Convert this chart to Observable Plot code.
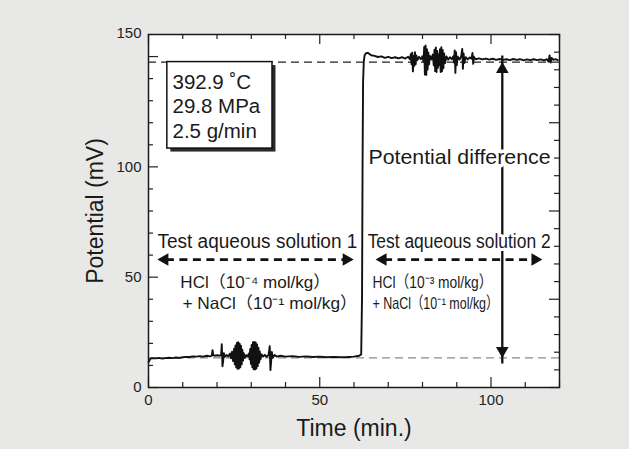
<!DOCTYPE html>
<html><head><meta charset="utf-8">
<script src="https://cdn.jsdelivr.net/npm/d3@7"></script>
<script src="https://cdn.jsdelivr.net/npm/@observablehq/plot@0.6"></script>
<style>
html,body{margin:0;padding:0;background:#e8e9e7;}
#chart{width:629px;height:449px;}
svg{display:block;}
</style></head><body><div id="chart"></div>
<script>
// ---- data ----
// potential trace: [time (min), potential (mV)]
const trace = [
[0,11.6],[0.2,11.9],[0.5,13.0],[1,13.3],[2,13.2],[3,13.4],[4,13.1],[5,13.3],[6,13.5],[7,13.3],[8,13.6],[9,13.4],[10,13.7],[11,13.9],[12,13.8],[13,14.1],[14,14.0],[15,14.2],[16,14.0],[17,14.4],[18,14.1],[18.5,14.4],[18.7,16.9],[18.9,14.8],[19.3,14.4],[20,14.6],[20.8,14.4],[21.2,14.8],[21.4,19.6],[21.6,9.6],[21.8,12.1],[22.0,15.6],[22.3,13.9],[22.8,14.7],[23.3,14.1],[23.8,15.4],[24.1,13.2],[24.4,16.2],[24.7,12.0],[25.0,17.6],[25.2,10.5],[25.4,19.1],[25.6,9.2],[25.8,20.2],[26.0,8.5],[26.2,20.5],[26.4,8.6],[26.6,19.9],[26.8,9.2],[27.0,18.9],[27.2,10.5],[27.4,17.1],[27.6,12.2],[27.8,15.6],[28.1,13.5],[28.5,14.7],[28.9,14.0],[29.3,15.4],[29.5,12.8],[29.7,17.5],[29.9,10.7],[30.1,19.3],[30.3,9.2],[30.5,20.5],[30.7,8.3],[30.9,20.7],[31.1,8.2],[31.3,20.4],[31.5,8.6],[31.7,19.5],[31.9,9.7],[32.1,18.0],[32.3,11.3],[32.5,16.3],[32.7,12.8],[33.0,15.0],[33.5,14.0],[34.0,14.8],[34.5,13.9],[35.0,14.6],[35.2,16.4],[35.4,18.7],[35.6,7.9],[35.8,11.6],[36.0,16.1],[36.3,13.5],[36.8,14.7],[37.5,14.0],[38.5,14.4],[40,14.0],[42,14.2],[44,13.9],[46,14.1],[48,13.8],[50,14.0],[52,13.7],[54,13.9],[56,13.7],[58,13.8],[60,14.0],[61.5,14.4],[62.1,15.0],
[62.35,41.7],[62.5,100.8],[62.65,138.5],[62.85,147.6],[63.1,150.6],[63.5,151.5],[64,151.7],[64.5,151.2],[65,150.6],[66,150.3],[67,149.8],[68,150.1],[69,149.4],[70,149.9],[71,149.3],[72,149.7],[73,149.2],[74,149.7],[75,149.1],[75.8,149.9],[76.3,148.8],[76.6,151.2],[76.8,146.5],[77.0,151.7],[77.2,143.3],[77.4,150.3],[77.6,145.8],[77.8,152.0],[78.0,146.5],[78.2,150.5],[78.5,148.4],[79.0,149.9],[79.5,148.8],[80.0,150.2],[80.3,147.6],[80.5,154.4],[80.7,141.9],[80.9,155.0],[81.1,141.7],[81.3,153.3],[81.5,144.1],[81.7,151.9],[81.9,146.4],[82.2,150.3],[82.6,148.7],[83.0,150.9],[83.3,146.0],[83.5,153.1],[83.7,143.4],[83.9,154.1],[84.1,143.0],[84.3,152.5],[84.5,144.9],[84.7,151.0],[84.9,146.2],[85.1,153.3],[85.3,143.0],[85.5,154.2],[85.7,143.3],[85.9,153.0],[86.1,144.7],[86.3,151.4],[86.6,147.1],[87.0,150.1],[87.5,148.6],[88.0,149.7],[88.5,148.8],[89.0,150.1],[89.2,147.3],[89.4,152.8],[89.6,142.6],[89.8,152.0],[90.0,146.0],[90.3,149.9],[90.8,148.7],[91.3,150.1],[91.6,153.5],[91.8,144.5],[92.0,151.4],[92.2,147.1],[92.6,149.7],[93.2,148.7],[93.8,149.6],[94.3,149.0],[94.6,151.6],[94.8,146.7],[95.0,149.9],[95.5,148.8],[96.5,149.2],[97.5,148.7],[98.5,149.1],[99.5,148.6],[100.5,149.0],[101.5,148.5],[102.5,148.9],[103.5,148.5],[104.5,148.8],[105.5,148.4],[106.5,148.9],[107.5,148.5],[108.5,148.8],[109.5,148.3],[110.5,148.7],[111.5,148.4],[112.5,148.8],[113.5,148.4],[114.5,148.7],[115.5,148.3],[116.3,148.8],[116.8,147.7],[117.1,150.5],[117.4,147.3],[117.7,149.4],[118.2,148.5],[118.8,148.8],[119.5,148.4]
];
const levelSolution1 = 13.4;   // mV, lower dashed reference
const levelSolution2 = 147.5;  // mV, upper dashed reference
const xTickLabels = [0, 50, 100];
const yTickLabels = [0, 50, 100];
const yTopLabel = "150";
const xTickMarks = d3.range(0, 121, 10);
const yLeftTickMarks = d3.range(0, 151, 10);
const yRightTickMarks = d3.range(0, 161, 8);
const conditions = ["392.9 ˚C", "29.8 MPa", "2.5 g/min"];
const solutionLabels = ["Test aqueous solution 1", "Test aqueous solution 2"];
const solution1Lines = ["HCl（10⁻⁴ mol/kg）", "+ NaCl（10⁻¹ mol/kg）"];
const solution2Lines = ["HCl（10⁻³ mol/kg）", "+ NaCl（10⁻¹ mol/kg）"];
const diffLabel = "Potential difference";

// ---- layout ----
const W = 629, H = 449, mL = 148, mR = 70, mT = 34, mB = 62;
const xMax = 120, yMax = 160;
const pxX = xMax / (W - mL - mR);   // minutes per pixel
const pxY = yMax / (H - mT - mB);   // mV per pixel
const lenX = v => (v % 50 === 0 ? 10 : 5);
const lenLeft = v => (v % 50 === 0 ? 10 : 5);
const lenRight = v => (v % 40 === 0 ? 10 : 5);
const font = "'Liberation Sans', Arial, Helvetica, 'Noto Sans CJK JP', sans-serif";
const ink = "#1a1a1a";

const arrowX = 103.3, arrowY = 58.0;
const head = {symbol: "triangle", r: 4.7, fill: "#111", stroke: "none"};

const chart = Plot.plot({
  width: W, height: H,
  marginLeft: mL, marginRight: mR, marginTop: mT, marginBottom: mB,
  style: {fontFamily: font, background: "transparent", color: "#222", fontSize: "15px"},
  x: {domain: [0, xMax]},
  y: {domain: [0, yMax]},
  marks: [
    Plot.frame({fill: "white", stroke: "none"}),
    // reference levels
    Plot.ruleY([levelSolution1], {stroke: "#8a8a8a", strokeWidth: 1.3, strokeDasharray: "8,5"}),
    Plot.ruleY([levelSolution2], {stroke: "#222", strokeWidth: 1.1, strokeDasharray: "8,5"}),
    // trace
    Plot.line(trace, {x: d => d[0], y: d => d[1], stroke: "#111", strokeWidth: 1.9, strokeLinejoin: "round"}),
    // conditions box
    Plot.rect([0], {x1: 5.5, x2: 36.2, y1: 108.3, y2: levelSolution2, fill: "#2a2a2a", dx: 3.5, dy: 3.5}),
    Plot.rect([0], {x1: 5.5, x2: 36.2, y1: 108.3, y2: levelSolution2, fill: "white", stroke: "#111", strokeWidth: 1.5}),
    Plot.text([conditions.join("\n")], {x: 7.0, y: 127.8, textAnchor: "start", lineAnchor: "middle", lineHeight: 1.2, fontSize: 20.5, fill: ink}),
    // vertical potential-difference arrow
    Plot.ruleX([arrowX], {y1: levelSolution1, y2: levelSolution2, stroke: "#111", strokeWidth: 2.3, insetTop: 6, insetBottom: 6}),
    Plot.dot([0], {...head, x: arrowX, y: levelSolution2, rotate: 0, dy: 7.3}),
    Plot.dot([0], {...head, x: arrowX, y: levelSolution1, rotate: 180, dy: -7.3}),
    Plot.text([diffLabel], {x: 90.8, y: 104.3, fontSize: 21, fill: ink, stroke: "white", strokeWidth: 7}),
    // horizontal dashed arrows
    Plot.ruleY([arrowY], {x1: 2.6, x2: 59.9, stroke: "#111", strokeWidth: 2.8, strokeDasharray: "8,5.5", insetLeft: 9, insetRight: 9}),
    Plot.dot([0], {...head, x: 2.6, y: arrowY, rotate: -90, dx: 7.3}),
    Plot.dot([0], {...head, x: 59.9, y: arrowY, rotate: 90, dx: -7.3}),
    Plot.ruleY([arrowY], {x1: 66.3, x2: 115, stroke: "#111", strokeWidth: 2.8, strokeDasharray: "8,5.5", insetLeft: 9, insetRight: 9}),
    Plot.dot([0], {...head, x: 66.3, y: arrowY, rotate: -90, dx: 7.3}),
    Plot.dot([0], {...head, x: 115, y: arrowY, rotate: 90, dx: -7.3}),
    // solution labels
    Plot.text([solutionLabels[0]], {x: 31.8, y: 66.2, fontSize: 19.5, fill: ink}),
    Plot.text([solutionLabels[1]], {x: 90.7, y: 66.2, fontSize: 19.5, fill: ink, stroke: "white", strokeWidth: 6}),
    Plot.text([solution1Lines[0]], {x: 9.3, y: 47.6, textAnchor: "start", fontSize: 16.5, fill: ink}),
    Plot.text([solution1Lines[1]], {x: 9.9, y: 38.1, textAnchor: "start", fontSize: 16.5, fill: ink}),
    Plot.text([solution2Lines[0]], {x: 65.4, y: 47.6, textAnchor: "start", fontSize: 16.5, fill: ink}),
    Plot.text([solution2Lines[1]], {x: 65.4, y: 38.1, textAnchor: "start", fontSize: 16.5, fill: ink}),
    // inward ticks on all four sides
    Plot.ruleX(xTickMarks, {x: d => d, y1: 0, y2: d => lenX(d) * pxY, stroke: "#222", strokeWidth: 1.2}),
    Plot.ruleX(xTickMarks, {x: d => d, y1: yMax, y2: d => yMax - lenX(d) * pxY, stroke: "#222", strokeWidth: 1.2}),
    Plot.ruleY(yLeftTickMarks, {y: d => d, x1: 0, x2: d => lenLeft(d) * pxX, stroke: "#222", strokeWidth: 1.2}),
    Plot.ruleY(yRightTickMarks, {y: d => d, x1: xMax, x2: d => xMax - lenRight(d) * pxX, stroke: "#222", strokeWidth: 1.2}),
    Plot.frame({stroke: ink, strokeWidth: 1.5}),
    // axes
    Plot.axisX({ticks: xTickLabels, tickSize: 0, tickPadding: 7, label: null, fontSize: 15, fill: "#222"}),
    Plot.axisY({ticks: yTickLabels, tickSize: 0, tickPadding: 7, label: null, fontSize: 15, fill: "#222"}),
    Plot.text([yTopLabel], {x: 0, y: yMax, dx: -7, dy: -1, textAnchor: "end", fontSize: 15, fill: "#222"}),
    Plot.text(["Time (min.)"], {frameAnchor: "bottom", lineAnchor: "middle", dy: 41, fontSize: 23, fill: ink}),
    Plot.text(["Potential (mV)"], {frameAnchor: "left", textAnchor: "middle", lineAnchor: "middle", dx: -53, rotate: -90, fontSize: 23, fill: ink})
  ]
});

document.getElementById("chart").appendChild(chart);

// match the condensed lettering widths of the original annotations
const fitText = () => {
  chart.querySelectorAll("text").forEach(t => {
    const s = t.textContent;
    const left = t.getBoundingClientRect().left;
    let target = null;
    if (s === solutionLabels[0]) target = 200;
    else if (s === solutionLabels[1]) target = 183;
    else if (s === diffLabel) target = 182;
    else if (s === solution1Lines[0] && left < 300) target = 150;
    else if (s === solution1Lines[1] && left < 300) target = 175;
    else if (s === solution2Lines[0] && left > 300) target = 120;
    else if (s === solution2Lines[1] && left > 300) target = 126;
    if (target) { t.setAttribute("textLength", target); t.setAttribute("lengthAdjust", "spacingAndGlyphs"); }
  });
};
fitText();
</script>
</body></html>
